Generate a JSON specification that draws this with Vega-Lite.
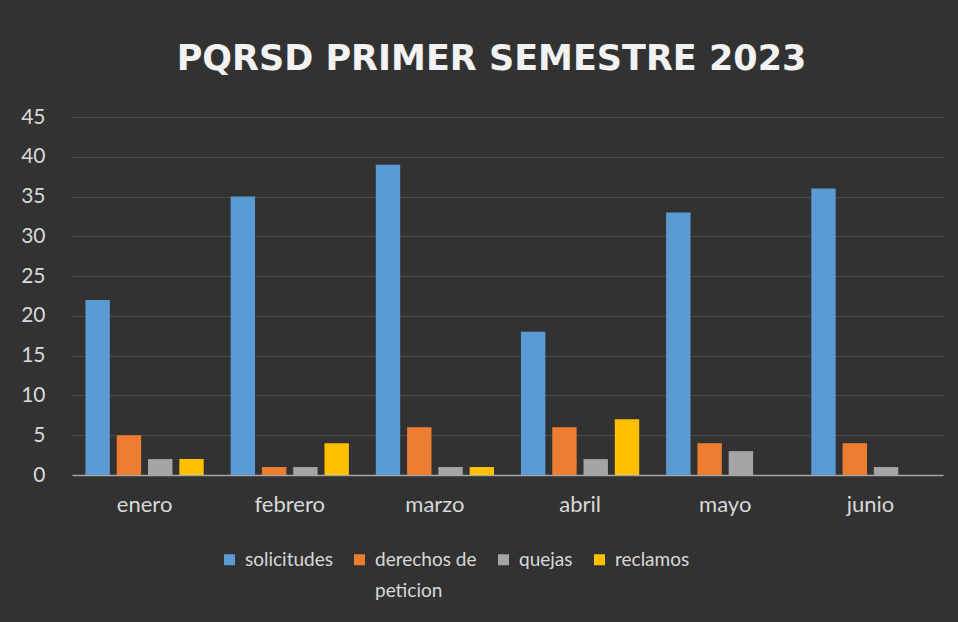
{
  "$schema": "https://vega.github.io/schema/vega-lite/v6.json",
  "width": 871,
  "height": 358,
  "autosize": "none",
  "padding": {"left": 72, "top": 117, "right": 15, "bottom": 147},
  "background": "#323232",
  "title": {
    "text": "PQRSD PRIMER SEMESTRE 2023",
    "anchor": "middle",
    "font": "DejaVu Sans",
    "fontWeight": "bold",
    "fontSize": 35,
    "color": "#f2f2f2",
    "offset": 29,
    "dx": -16
  },
  "data": {
    "values": [
      {"mes": "enero", "tipo": "solicitudes", "valor": 22},
      {"mes": "enero", "tipo": "derechos de peticion", "valor": 5},
      {"mes": "enero", "tipo": "quejas", "valor": 2},
      {"mes": "enero", "tipo": "reclamos", "valor": 2},
      {"mes": "febrero", "tipo": "solicitudes", "valor": 35},
      {"mes": "febrero", "tipo": "derechos de peticion", "valor": 1},
      {"mes": "febrero", "tipo": "quejas", "valor": 1},
      {"mes": "febrero", "tipo": "reclamos", "valor": 4},
      {"mes": "marzo", "tipo": "solicitudes", "valor": 39},
      {"mes": "marzo", "tipo": "derechos de peticion", "valor": 6},
      {"mes": "marzo", "tipo": "quejas", "valor": 1},
      {"mes": "marzo", "tipo": "reclamos", "valor": 1},
      {"mes": "abril", "tipo": "solicitudes", "valor": 18},
      {"mes": "abril", "tipo": "derechos de peticion", "valor": 6},
      {"mes": "abril", "tipo": "quejas", "valor": 2},
      {"mes": "abril", "tipo": "reclamos", "valor": 7},
      {"mes": "mayo", "tipo": "solicitudes", "valor": 33},
      {"mes": "mayo", "tipo": "derechos de peticion", "valor": 4},
      {"mes": "mayo", "tipo": "quejas", "valor": 3},
      {"mes": "junio", "tipo": "solicitudes", "valor": 36},
      {"mes": "junio", "tipo": "derechos de peticion", "valor": 4},
      {"mes": "junio", "tipo": "quejas", "valor": 1}
    ]
  },
  "mark": {"type": "bar"},
  "encoding": {
    "x": {
      "field": "mes",
      "type": "nominal",
      "sort": ["enero", "febrero", "marzo", "abril", "mayo", "junio"],
      "scale": {"paddingInner": 0, "paddingOuter": 0},
      "axis": {
        "title": null,
        "labelAngle": 0,
        "labelFont": "Lato",
        "labelFontSize": 22,
        "labelColor": "#d9d9d9",
        "labelPadding": 19,
        "ticks": false,
        "domain": true,
        "domainColor": "#a6a6a6",
        "domainWidth": 1.5,
        "grid": false
      }
    },
    "xOffset": {
      "field": "tipo",
      "type": "nominal",
      "sort": ["solicitudes", "derechos de peticion", "quejas", "reclamos"],
      "scale": {"paddingInner": 0.22, "paddingOuter": 0.43}
    },
    "y": {
      "field": "valor",
      "type": "quantitative",
      "scale": {"domain": [0, 45], "nice": false},
      "axis": {
        "title": null,
        "values": [0, 5, 10, 15, 20, 25, 30, 35, 40, 45],
        "labelFont": "Lato",
        "labelFontSize": 21,
        "labelColor": "#d9d9d9",
        "labelPadding": 27,
        "ticks": false,
        "domain": false,
        "grid": true,
        "gridColor": "#4a4a4a",
        "gridWidth": 1
      }
    },
    "color": {
      "field": "tipo",
      "type": "nominal",
      "sort": ["solicitudes", "derechos de peticion", "quejas", "reclamos"],
      "scale": {
        "domain": ["solicitudes", "derechos de peticion", "quejas", "reclamos"],
        "range": ["#5b9bd5", "#ed7d31", "#a5a5a5", "#ffc000"]
      },
      "legend": {
        "title": null,
        "orient": "none",
        "legendX": 148,
        "legendY": 433,
        "direction": "horizontal",
        "columns": 4,
        "symbolType": "square",
        "symbolSize": 121,
        "symbolStrokeWidth": 0,
        "labelFont": "Lato",
        "labelFontSize": 19,
        "labelColor": "#d9d9d9",
        "labelLimit": 200,
        "labelOffset": 6,
        "columnPadding": 17,
        "labelExpr": "datum.label == 'derechos de peticion' ? ['derechos de', 'peticion'] : [datum.label, '']",
        "encode": {"labels": {"update": {"lineHeight": {"value": 31}}}}
      }
    }
  },
  "config": {
    "view": {"stroke": null}
  }
}
